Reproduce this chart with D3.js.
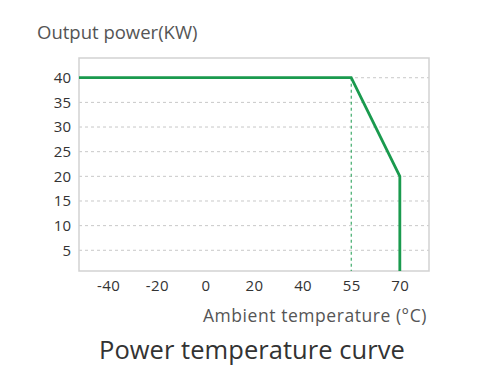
<!DOCTYPE html>
<html><head><meta charset="utf-8">
<script src="https://cdn.jsdelivr.net/npm/d3@7"></script>
<style>body{margin:0;background:#fff;}svg{display:block;font-family:"Open Sans",sans-serif;}</style>
</head><body><svg id="c" width="500" height="389"></svg>
<script>
const xTicks = [-40, -20, 0, 20, 40, 55, 70];
const yTicks = [5, 10, 15, 20, 25, 30, 35, 40];
const curveTemps = [-60, 55, 70, 70];
const curvePower = [40, 40, 20, 0];
const ratedTemp = 55, ratedPower = 40;
const yLabel = "Output power(KW)";
const xLabel = "Ambient temperature (°C)";
const title = "Power temperature curve";

const svg = d3.select("#c");
const L = 79, R = 429, T = 58, B = 271;
const xp = d3.scalePoint().domain(xTicks).range([L, R]).padding(0.6);
const x = d3.scaleLinear().domain(xTicks).range(xTicks.map(d => xp(d)));
const y = d3.scaleLinear().domain([0.8, 44]).range([B, T]);

svg.append("defs").append("clipPath").attr("id","clip")
  .append("rect").attr("x",L).attr("y",T).attr("width",R-L).attr("height",B-T);

// grid
svg.append("g").selectAll("line").data(yTicks).join("line")
  .attr("x1",L).attr("x2",R).attr("y1",d=>y(d)).attr("y2",d=>y(d))
  .attr("stroke","#c8c8c8").attr("stroke-width",1).attr("stroke-dasharray","3,3");

// frame
svg.append("rect").attr("x",L).attr("y",T).attr("width",R-L).attr("height",B-T)
  .attr("fill","none").attr("stroke","#d2d2d2").attr("stroke-width",1.5);

// y axis
const ya = svg.append("g").attr("transform",`translate(${L},0)`)
  .call(d3.axisLeft(y).tickValues(yTicks).tickSize(0).tickPadding(8));
ya.select(".domain").remove();
ya.selectAll("text").attr("font-size",15).attr("fill","#333").attr("font-family","'Open Sans',sans-serif");

// x axis
const xa = svg.append("g").attr("transform",`translate(0,${B})`)
  .call(d3.axisBottom(x).tickValues(xTicks).tickSize(0).tickPadding(9).tickFormat(d=>d));
xa.select(".domain").remove();
xa.selectAll("text").attr("font-size",15).attr("fill","#333").attr("letter-spacing",0.4).attr("font-family","'Open Sans',sans-serif");

// dashed vertical at rated temp
svg.append("line").attr("x1",x(ratedTemp)).attr("x2",x(ratedTemp))
  .attr("y1",y(ratedPower)).attr("y2",B)
  .attr("stroke","#1a9a4e").attr("stroke-width",1).attr("stroke-dasharray","3,3");

// curve
const pts = curveTemps.map((t,i)=>[t, curvePower[i]]);
svg.append("path").datum(pts).attr("clip-path","url(#clip)")
  .attr("d", d3.line().x(d=>x(d[0])).y(d=>y(d[1])))
  .attr("fill","none").attr("stroke","#1a9a4e").attr("stroke-width",2.8).attr("stroke-linejoin","miter");

svg.append("text").attr("x",37).attr("y",39).attr("font-size",18.5).attr("fill","#555").text(yLabel);
svg.append("text").attr("x",203).attr("y",322).attr("font-size",17.5).attr("letter-spacing",0.55).attr("fill","#555").text(xLabel);
svg.append("text").attr("x",99).attr("y",359).attr("font-size",25.5).attr("letter-spacing",0.05).attr("fill","#333").text(title);
</script></body></html>
